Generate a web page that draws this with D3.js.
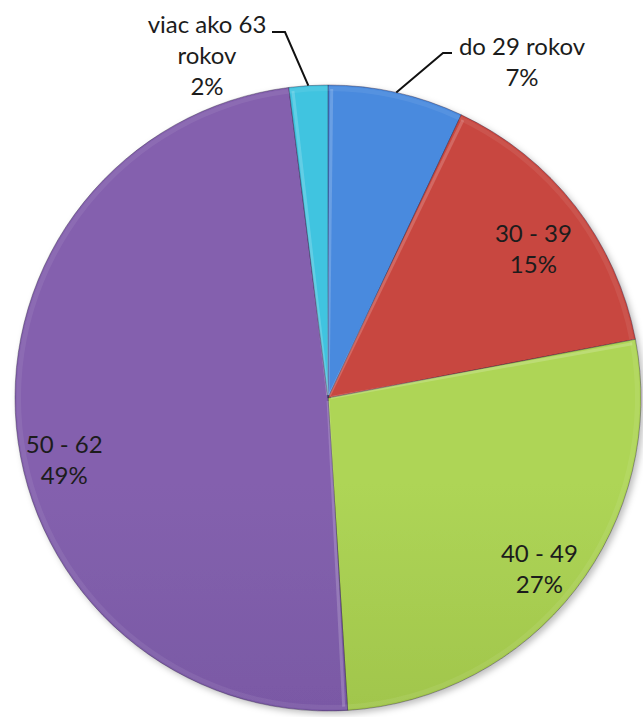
<!DOCTYPE html>
<html>
<head>
<meta charset="utf-8">
<script src="https://cdn.jsdelivr.net/npm/d3@7"></script>
<style>
  html, body { margin: 0; padding: 0; background: #fff; }
  svg { display: block; }
</style>
</head>
<body>
<div id="chart"></div>
<script>
// age groups (Slovak), share in percent
const categories = ["do 29 rokov", "30 - 39", "40 - 49", "50 - 62", "viac ako 63 rokov"];
const shares = [7, 15, 27, 49, 2];
const labelLines = [["do 29 rokov"], ["30 - 39"], ["40 - 49"], ["50 - 62"], ["viac ako 63", "rokov"]];

const colorsTop = ["#4a8ade", "#c8463f", "#aed556", "#8461ae", "#40c4e0"];
const colorsBottom = ["#3a73c2", "#b03a37", "#8aab3b", "#684b95", "#2ea6c2"];

const width = 643;
const height = 717;
const cx = 328, cy = 398, r = 313;

const svg = d3.select("#chart")
  .append("svg")
  .attr("width", width)
  .attr("height", height);

const defs = svg.append("defs");

// soft shadow under the pie
const shadow = defs.append("filter")
  .attr("id", "shadow")
  .attr("x", "-10%").attr("y", "-10%")
  .attr("width", "120%").attr("height", "120%");
shadow.append("feDropShadow")
  .attr("dx", 3).attr("dy", 3)
  .attr("stdDeviation", 3)
  .attr("flood-color", "#000")
  .attr("flood-opacity", 0.25);

// vertical gradient per slice, lighter at the top
categories.forEach((c, i) => {
  const g = defs.append("linearGradient")
    .attr("id", "grad" + i)
    .attr("gradientUnits", "userSpaceOnUse")
    .attr("x1", 0).attr("y1", cy - r)
    .attr("x2", 0).attr("y2", cy + r);
  g.append("stop").attr("offset", "0%").attr("stop-color", colorsTop[i]);
  g.append("stop").attr("offset", "100%").attr("stop-color", colorsBottom[i]);
});

const pie = d3.pie().sort(null).value(d => d);
const arcs = pie(shares);

const arc = d3.arc().innerRadius(0).outerRadius(r);
const rimArc = d3.arc().innerRadius(r - 6).outerRadius(r - 1.5);

const g = svg.append("g").attr("transform", `translate(${cx},${cy})`);

const slices = g.append("g").attr("filter", "url(#shadow)");
slices.selectAll("path.slice")
  .data(arcs)
  .enter()
  .append("path")
  .attr("class", "slice")
  .attr("d", arc)
  .attr("fill", (d, i) => `url(#grad${i})`)
  .attr("stroke", "rgba(40,30,60,0.5)")
  .attr("stroke-width", 0.8);

// bevel highlight along the rim
g.selectAll("path.rim")
  .data(arcs)
  .enter()
  .append("path")
  .attr("class", "rim")
  .attr("d", rimArc)
  .attr("fill", "#fff")
  .attr("opacity", 0.07);

// bevel highlight along the slice edges
g.selectAll("line.edge")
  .data(arcs)
  .enter()
  .append("line")
  .attr("class", "edge")
  .attr("x1", d => 3 * Math.sin(d.startAngle + 0.02))
  .attr("y1", d => -3 * Math.cos(d.startAngle + 0.02))
  .attr("x2", d => (r - 4) * Math.sin(d.startAngle + 0.012))
  .attr("y2", d => -(r - 4) * Math.cos(d.startAngle + 0.012))
  .attr("stroke", "#fff")
  .attr("stroke-opacity", 0.18)
  .attr("stroke-width", 3);

// label placement (layout only): inside labels at a label radius, nudged
const labelArc = d3.arc().innerRadius(265).outerRadius(265);
const inside = { 1: [-4, 14], 2: [2, 9], 3: [0, 37] };
// outside labels: elbow point and text anchor offsets from the centre
const outside = {
  0: { elbow: [115, -345], end: [124, -345], text: [194, -351] },
  4: { elbow: [-43, -366], end: [-56, -366], text: [-121, -373] }
};

const fontSize = 24;
const lineH = 31;
const labels = g.append("g")
  .attr("font-family", "Lato, 'Open Sans', sans-serif")
  .attr("font-size", fontSize)
  .attr("fill", "#1c1c1c")
  .attr("text-anchor", "middle");

arcs.forEach((d, i) => {
  const lines = labelLines[i].concat([d3.format(".0f")(shares[i]) + "%"]);
  let tx, ty;
  if (outside[i]) {
    const o = outside[i];
    const mid = (d.startAngle + d.endAngle) / 2;
    const px = r * Math.sin(mid), py = -r * Math.cos(mid);
    g.append("polyline")
      .attr("points", [[px, py], o.elbow, o.end].map(p => p.join(",")).join(" "))
      .attr("fill", "none")
      .attr("stroke", "#111")
      .attr("stroke-width", 2);
    tx = o.text[0];
    ty = o.text[1];
  } else {
    const c = labelArc.centroid(d);
    tx = c[0] + inside[i][0];
    ty = c[1] + inside[i][1] - (lines.length - 1) * lineH / 2;
  }
  const t = labels.append("text").attr("x", tx).attr("y", ty);
  lines.forEach((s, k) => {
    t.append("tspan")
      .attr("x", tx)
      .attr("y", ty + k * lineH)
      .attr("dy", "0.35em")
      .text(s);
  });
});
</script>
</body>
</html>
